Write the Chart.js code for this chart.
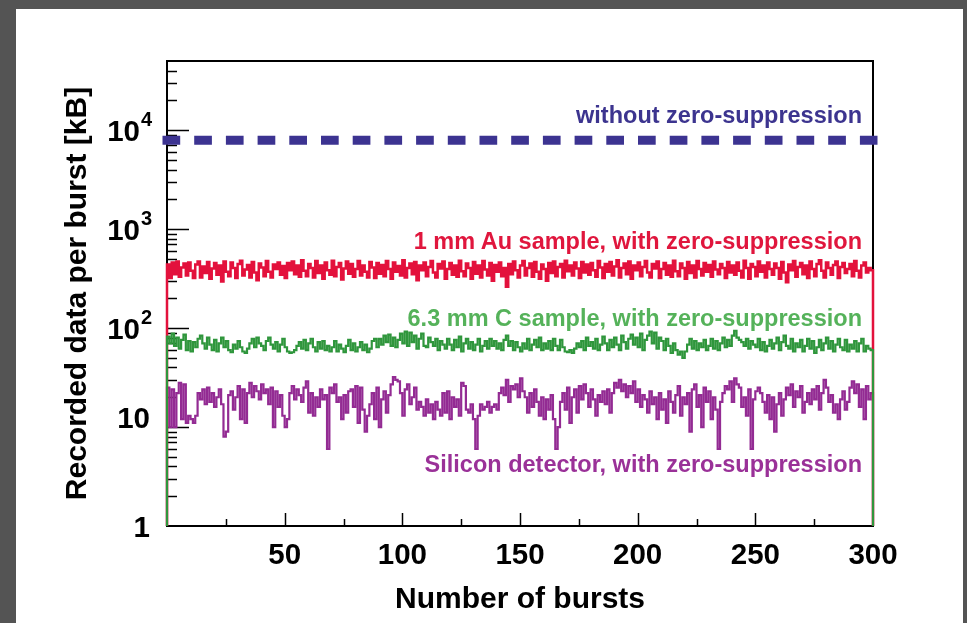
<!DOCTYPE html>
<html><head><meta charset="utf-8">
<script src="https://cdn.jsdelivr.net/npm/chart.js@4.4.1/dist/chart.umd.min.js"></script>
<style>
html,body{margin:0;padding:0;background:#545454;width:967px;height:623px;overflow:hidden;}
#panel{position:absolute;left:16px;top:9px;width:947px;height:614px;background:#fff;}
#wrap{position:absolute;left:0;top:0;width:967px;height:623px;}
.note{position:absolute;right:105px;font:bold 23.5px "Liberation Sans",Arial,sans-serif;line-height:24px;white-space:nowrap;}
</style></head><body>
<div id="panel"></div>
<div id="wrap"><canvas id="c" width="967" height="623"></canvas></div>
<div class="note" style="top:103px;color:#3c348f">without zero-suppression</div>
<div class="note" style="top:229px;color:#e0163d">1 mm Au sample, with zero-suppression</div>
<div class="note" style="top:306px;color:#55b25a">6.3 mm C sample, with zero-suppression</div>
<div class="note" style="top:452px;color:#9a3198">Silicon detector, with zero-suppression</div>
<script>
// ---- axis definitions ----
const X_MIN = 0, X_MAX = 300;
const Y_MIN = 1, Y_MAX = 50000;
const xTickValues = [50, 100, 150, 200, 250, 300];
const xMinorTickValues = [25, 75, 125, 175, 225, 275];
const yTickValues = [1, 10, 100, 1000, 10000];
const yTickBase = ['1', '10', '10', '10', '10'];
const yTickExponent = ['', '', '2', '3', '4'];

// ---- series ----
const seriesNames = [
  'without zero-suppression',
  '1 mm Au sample, with zero-suppression',
  '6.3 mm C sample, with zero-suppression',
  'Silicon detector, with zero-suppression'
];
const noSuppressionLevel = 7900;

const auSample = [
 440,320,460,350,470,330,410,450,340,460,
 380,320,440,470,325,420,360,465,315,400,
 455,345,430,295,470,370,335,460,405,320,
 445,480,340,390,435,325,465,365,305,450,
 410,335,475,370,325,440,395,460,345,425,
 320,455,385,470,350,430,330,485,380,335,
 445,405,325,475,360,430,315,460,385,345,
 480,335,415,455,310,400,470,355,445,330,
 395,475,340,430,370,325,465,410,320,455,
 355,435,335,475,395,315,460,370,425,340,
 485,325,405,450,350,465,305,430,385,460,
 335,415,475,365,325,445,400,470,315,395,
 455,345,430,330,480,375,335,450,405,315,
 465,355,430,325,475,390,340,455,300,435,
 370,460,335,405,262,445,350,470,385,325,
 430,475,340,405,450,330,465,370,315,440,
 395,300,455,360,470,335,415,445,325,480,
 375,430,340,460,400,320,465,365,440,345,
 455,385,330,475,410,320,445,370,465,340,
 420,485,325,405,450,350,470,315,430,385,
 460,335,415,475,365,325,445,400,470,320,
 395,455,345,430,330,480,375,335,450,405,
 315,465,360,430,325,475,395,340,455,370,
 435,330,470,390,350,445,405,320,465,365,
 430,345,460,380,325,480,405,315,445,415,
 335,470,370,430,325,460,395,345,450,405,
 315,465,365,290,440,385,475,330,415,455,
 350,430,320,470,395,335,445,485,380,325,
 460,405,345,435,470,320,415,455,360,395,
 445,335,475,380,325,430,460,365,405,385
];

const cSample = [
 82,70,88,66,80,62,76,86,60,74,
 58,72,64,78,84,70,62,80,68,60,
 76,58,70,80,64,74,60,57,68,62,
 74,64,58,56,62,70,78,64,80,70,
 66,60,74,80,68,62,72,58,68,78,
 64,58,56,57,60,66,72,62,76,60,
 70,78,64,58,72,62,74,60,66,58,
 64,74,58,68,62,57,66,76,60,70,
 58,64,72,60,68,57,62,74,78,64,
 78,68,84,72,86,66,80,64,76,88,
 70,92,66,90,72,84,62,78,88,66,
 64,80,72,66,78,60,74,68,62,78,
 68,60,76,64,82,58,70,78,62,72,
 60,68,78,58,66,74,62,78,66,74,
 62,70,60,76,84,66,74,60,72,64,
 58,70,62,78,60,68,76,64,80,60,
 70,62,74,60,78,66,60,76,64,58,
 57,60,56,62,70,64,74,60,80,66,
 72,62,78,60,68,82,70,60,76,64,
 80,68,60,84,72,62,78,86,68,80,
 64,88,60,76,84,92,70,90,62,80,
 74,60,78,66,56,70,60,54,58,50,
 58,68,78,62,74,60,70,64,76,60,
 66,78,62,74,60,70,80,64,76,66,
 84,94,80,76,72,66,78,62,74,68,
 64,78,60,72,58,66,76,62,70,80,
 60,72,84,66,62,78,58,70,64,76,
 58,66,78,62,74,56,64,76,60,70,
 80,62,74,58,68,78,64,60,76,58,
 68,62,74,58,70,78,58,66,62,60
];

const silicon = [
 25,10,24,10,22,28,12,27,11,13,
 12,11,13,22,19,24,17,25,18,22,
 16,20,24,17,8,9,21,23,15,20,
 26,12,24,11,22,28,20,26,23,19,
 27,22,24,17,25,10,23,16,21,13,
 10,12,22,26,19,24,21,18,25,29,
 14,22,13,20,16,24,19,21,6,25,
 22,27,18,20,12,21,14,23,24,16,
 26,11,25,15,9,13,17,22,12,25,
 10,19,23,14,21,27,32,30,29,22,
 13,24,27,17,20,25,15,18,16,13,
 19,14,17,12,18,15,13,22,14,23,
 12,20,16,19,13,28,26,15,14,17,
 12,6,13,17,15,16,18,14,16,17,
 15,22,25,21,30,18,26,24,27,20,
 31,23,20,14,22,16,24,18,13,20,
 12,19,15,21,12,6,10,18,22,15,
 25,11,20,24,14,26,19,27,22,16,
 24,19,13,21,18,23,17,24,14,22,
 28,25,30,23,27,20,26,22,29,18,
 24,16,21,19,14,23,17,20,12,22,
 15,19,11,23,18,14,21,26,13,20,
 17,22,9,24,27,16,21,10,25,18,
 23,12,20,15,6,18,22,26,24,29,
 18,31,27,25,16,20,13,24,6,19,
 23,25,22,18,14,21,12,20,9,17,
 22,13,19,25,21,27,16,23,20,26,
 14,18,22,17,24,19,26,15,22,30,
 25,18,21,14,17,12,19,23,15,18,
 25,29,22,27,16,24,12,26,19,22
];

// histogram outline (ROOT style: edges drop to the axis minimum)
function histPoints(vals){
  const w = (X_MAX - X_MIN) / vals.length;
  const pts = [{x: X_MIN, y: Y_MIN}];
  vals.forEach((v, i) => pts.push({x: X_MIN + i * w, y: v}));
  pts.push({x: X_MAX, y: vals[vals.length - 1]});
  pts.push({x: X_MAX, y: Y_MIN});
  return pts;
}

const FONT = '"Liberation Sans", Arial, Helvetica, sans-serif';

const framePlugin = {
  id: 'frame',
  beforeDatasetsDraw(chart){
    const {ctx, chartArea: a, scales: {x, y}} = chart;
    ctx.save();
    ctx.strokeStyle = '#000';
    ctx.lineWidth = 2;
    ctx.strokeRect(a.left, a.top, a.right - a.left, a.bottom - a.top);
    ctx.lineWidth = 1.5;
    for (let k = 0; k <= 4; k++){
      for (let d = 1; d <= 9; d++){
        const v = d * Math.pow(10, k);
        if (v <= Y_MIN || v >= Y_MAX) continue;
        const py = Math.round(y.getPixelForValue(v)) + 0.5;
        const len = d === 1 ? 22 : 10;
        ctx.beginPath(); ctx.moveTo(a.left, py); ctx.lineTo(a.left + len, py); ctx.stroke();
      }
    }
    xTickValues.concat(xMinorTickValues).forEach(v => {
      if (v >= X_MAX) return;
      const px = Math.round(x.getPixelForValue(v)) + 0.5;
      const len = xTickValues.includes(v) ? 13 : 7;
      ctx.beginPath(); ctx.moveTo(px, a.bottom); ctx.lineTo(px, a.bottom - len); ctx.stroke();
    });
    ctx.restore();
  },
  afterDraw(chart){
    // y tick labels with ROOT-style superscript exponents
    const {ctx, scales: {y}} = chart;
    ctx.save();
    ctx.fillStyle = '#000';
    ctx.textBaseline = 'alphabetic';
    yTickValues.forEach((v, i) => {
      const py = y.getPixelForValue(v);
      const exp = yTickExponent[i];
      if (exp){
        ctx.font = 'bold 29.5px ' + FONT;
        ctx.textAlign = 'right';
        ctx.fillText(yTickBase[i], 140, py + 10.5);
        ctx.font = 'bold 20px ' + FONT;
        ctx.textAlign = 'left';
        ctx.fillText(exp, 141, py - 4);
      } else {
        ctx.font = 'bold 29.5px ' + FONT;
        ctx.textAlign = 'right';
        const lift = yTickBase[i] === '1' ? 0 : 10;
        ctx.fillText(yTickBase[i], 150, py + 10.5 - lift);
      }
    });
    ctx.restore();
  }
};

const stepStyle = (color, w) => ({
  borderColor: color, borderWidth: w, pointRadius: 0, stepped: 'before',
  borderJoinStyle: 'miter', fill: false, tension: 0,
  clip: {left: 2, right: 2, top: 0, bottom: 0}
});

new Chart(document.getElementById('c'), {
  type: 'line',
  data: {
    datasets: [
      Object.assign({label: seriesNames[2], data: histPoints(cSample)}, stepStyle('#2f963c', 2.2)),
      Object.assign({label: seriesNames[1], data: histPoints(auSample)}, stepStyle('#e3113c', 2.5)),
      Object.assign({label: seriesNames[3], data: histPoints(silicon)}, stepStyle('#932b93', 2.2)),
      {
        label: seriesNames[0],
        data: [{x: X_MIN, y: noSuppressionLevel}, {x: X_MAX, y: noSuppressionLevel}],
        borderColor: '#3c3391', borderWidth: 9, borderDash: [8.7, 23],
        borderCapStyle: 'square', pointRadius: 0, clip: false, fill: false
      }
    ]
  },
  options: {
    responsive: false,
    animation: false,
    layout: {padding: {left: 0, top: 61, right: 94, bottom: 0}},
    plugins: {legend: {display: false}, tooltip: {enabled: false}},
    scales: {
      x: {
        type: 'linear', min: X_MIN, max: X_MAX,
        grid: {display: false, drawTicks: false},
        border: {display: false},
        afterBuildTicks: s => { s.ticks = xTickValues.map(v => ({value: v})); },
        afterFit: s => { s.height = 97; },
        ticks: {
          color: '#000', padding: 12, maxRotation: 0, autoSkip: false,
          font: {family: FONT, size: 29.5, weight: 'bold'},
          callback: v => String(v)
        },
        title: {
          display: true, text: 'Number of bursts', color: '#000',
          font: {family: FONT, size: 30, weight: 'bold'},
          padding: {top: 0, bottom: 5}
        }
      },
      y: {
        type: 'logarithmic', min: Y_MIN, max: Y_MAX,
        grid: {display: false, drawTicks: false},
        border: {display: false},
        afterBuildTicks: s => { s.ticks = yTickValues.map(v => ({value: v})); },
        afterFit: s => { s.width = 167; },
        ticks: { display: false },
        title: {
          display: true, text: 'Recorded data per burst [kB]', color: '#000',
          font: {family: FONT, size: 30, weight: 'bold'},
          padding: {top: 60, bottom: 0}
        }
      }
    }
  },
  plugins: [framePlugin]
});
</script>
</body></html>
